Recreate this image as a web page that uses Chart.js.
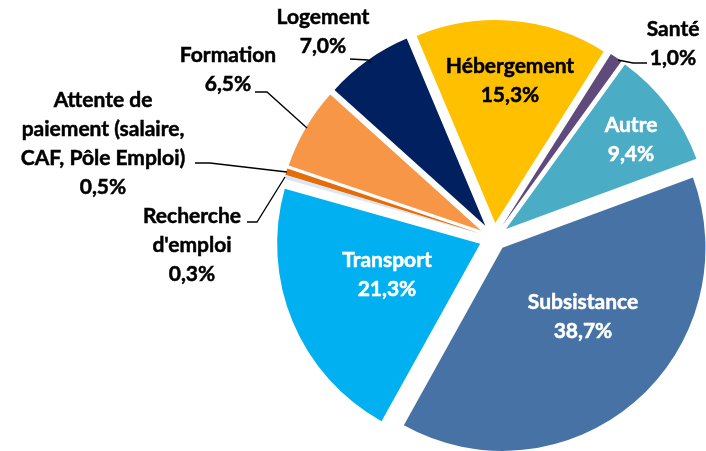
<!DOCTYPE html>
<html>
<head>
<meta charset="utf-8">
<script src="https://cdn.jsdelivr.net/npm/chart.js@4/dist/chart.umd.min.js"></script>
<style>
  html, body { margin: 0; padding: 0; background: #fff; }
  #wrap { width: 706px; height: 451px; position: relative; }
</style>
</head>
<body>
<div id="wrap"><canvas id="myChart"></canvas></div>
<script>
// data (clockwise, starting at Santé)
var categories = [
    ['Santé'],
    ['Autre'],
    ['Subsistance'],
    ['Transport'],
    ['Recherche', "d'emploi"],
    ['Attente de', 'paiement (salaire,', 'CAF, Pôle Emploi)'],
    ['Formation'],
    ['Logement'],
    ['Hébergement']
];
var values = [1.0, 9.4, 38.7, 21.3, 0.3, 0.5, 6.5, 7.0, 15.3];

// styles
var colors = ['#604A7B', '#4BACC6', '#4672A6', '#00B0F0', '#DCE6F2', '#E46C0A', '#F79646', '#002060', '#FFC000'];
var textColors = ['#000', '#fff', '#fff', '#fff', '#000', '#000', '#000', '#000', '#000'];
var explode = [15, 15, 13, 15, 15, 15, 15, 15, 15];

// where each label block sits (center of first line) + leader lines
var labelPos = [
    {x: 673, y: 29, line: [[618, 60], [633, 63], [647, 63]]},
    {x: 631, y: 125},
    {x: 583, y: 302},
    {x: 387, y: 260},
    {x: 192, y: 216, line: [[247, 222], [257, 222], [285, 177]]},
    {x: 103, y: 100, line: [[195, 163], [210, 163], [287, 172]]},
    {x: 228, y: 55, line: [[255, 92], [267, 92], [307, 128]]},
    {x: 323, y: 17, line: [[350, 59], [368, 60], [371, 62]]},
    {x: 510, y: 66}
];
var lineGap = 29;

function fmt(v) {
    return v.toFixed(1).replace('.', ',') + '%';
}

// draw exploded slices ourselves (Chart.js offset also grows/shrinks arcs)
var explodePlugin = {
    id: 'explode',
    beforeDatasetDraw: function (chart, args) {
        var ctx = chart.ctx;
        var meta = args.meta;
        meta.data.forEach(function (arc, i) {
            var mid = (arc.startAngle + arc.endAngle) / 2;
            ctx.save();
            ctx.translate(Math.cos(mid) * explode[i], Math.sin(mid) * explode[i]);
            arc.draw(ctx);
            ctx.restore();
        });
        return false;
    }
};

var labelPlugin = {
    id: 'pieLabels',
    afterDraw: function (chart) {
        var ctx = chart.ctx;
        ctx.save();
        ctx.font = 'bold 21px Lato';
        ctx.textAlign = 'center';
        ctx.textBaseline = 'middle';
        labelPos.forEach(function (p, i) {
            if (p.line) {
                ctx.beginPath();
                ctx.strokeStyle = '#000';
                ctx.lineWidth = 1.3;
                ctx.moveTo(p.line[0][0], p.line[0][1]);
                for (var k = 1; k < p.line.length; k++) ctx.lineTo(p.line[k][0], p.line[k][1]);
                ctx.stroke();
            }
            var lines = categories[i].concat([fmt(values[i])]);
            ctx.fillStyle = textColors[i];
            ctx.strokeStyle = textColors[i];
            ctx.lineWidth = 0.5;
            lines.forEach(function (t, k) {
                ctx.fillText(t, p.x, p.y + k * lineGap);
                ctx.strokeText(t, p.x, p.y + k * lineGap);
            });
        });
        ctx.restore();
    }
};

var ctx = document.getElementById('myChart').getContext('2d');
var chart1 = new Chart(ctx, {
    type: 'pie',
    data: {
        labels: categories,
        datasets: [{
            data: values,
            backgroundColor: colors,
            borderWidth: 0
        }]
    },
    options: {
        responsive: true,
        maintainAspectRatio: false,
        animation: false,
        events: [],
        rotation: 32.3,
        radius: 203,
        layout: {
            padding: {left: 282, top: 25, right: 0, bottom: 0}
        },
        plugins: {
            legend: {display: false},
            tooltip: {enabled: false}
        }
    },
    plugins: [explodePlugin, labelPlugin]
});
</script>
</body>
</html>
